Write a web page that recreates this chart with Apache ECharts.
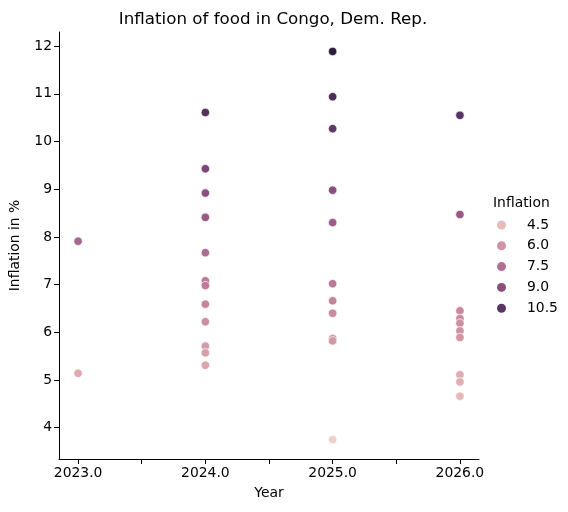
<!DOCTYPE html>
<html>
<head>
<meta charset="utf-8">
<script src="https://cdn.jsdelivr.net/npm/echarts@6/dist/echarts.min.js"></script>
<style>html,body{margin:0;padding:0;background:#fff}#c{width:568px;height:512px}</style>
</head>
<body>
<div id="c"></div>
<script>
// ---- data ----
const years2023 = [2023, 2023];
const values2023 = [7.91, 5.14];
const years2024 = [2024, 2024, 2024, 2024, 2024, 2024, 2024, 2024, 2024, 2024, 2024, 2024];
const values2024 = [10.61, 9.43, 8.92, 8.41, 7.67, 7.08, 6.98, 6.59, 6.22, 5.71, 5.57, 5.31];
const years2025 = [2025, 2025, 2025, 2025, 2025, 2025, 2025, 2025, 2025, 2025, 2025];
const values2025 = [11.89, 10.94, 10.27, 8.98, 8.30, 7.02, 6.66, 6.40, 5.87, 5.82, 3.75];
const years2026 = [2026, 2026, 2026, 2026, 2026, 2026, 2026, 2026, 2026, 2026];
const values2026 = [10.55, 8.47, 6.45, 6.29, 6.19, 6.03, 5.89, 5.11, 4.96, 4.66];
const legendValues = [4.5, 6.0, 7.5, 9.0, 10.5];
const xTickValues = [2023, 2023.5, 2024, 2024.5, 2025, 2025.5, 2026];
const xLabelValues = [2023, 2024, 2025, 2026];
const yTickValues = [4, 5, 6, 7, 8, 9, 10, 11, 12];

// ---- build points ----
const points = [];
[[years2023, values2023], [years2024, values2024], [years2025, values2025], [years2026, values2026]].forEach(([ys, vs]) => {
  ys.forEach((y, i) => points.push([y, vs[i]]));
});
const allVals = points.map(p => p[1]);
const hMin = Math.min(...allVals), hMax = Math.max(...allVals);

// seaborn default cubehelix colormap
function cubehelix(x) {
  const gamma = 1, start = 0, rot = 0.4, hue = 0.8;
  const xg = Math.pow(x, gamma);
  const a = hue * xg * (1 - xg) / 2;
  const phi = 2 * Math.PI * (start / 3 + rot * x);
  const c = Math.cos(phi), s = Math.sin(phi);
  const clip = v => Math.max(0, Math.min(1, v));
  const r = clip(xg + a * (-0.14861 * c + 1.78277 * s));
  const g = clip(xg + a * (-0.29227 * c - 0.90649 * s));
  const b = clip(xg + a * (1.97294 * c));
  const h = v => Math.round(v * 255).toString(16).padStart(2, '0');
  return '#' + h(r) + h(g) + h(b);
}
function cmap(t) { return cubehelix(0.85 + (0.15 - 0.85) * t); }
const stops = [];
for (let i = 0; i <= 32; i++) stops.push(cmap(i / 32));

const xMin = 2023 - 0.05 * 3, xMax = 2026 + 0.05 * 3;
const yPad = 0.05 * (hMax - hMin);
const yMin = hMin - yPad, yMax = hMax + yPad;

const font = 'DejaVu Sans';
const fs = 13.9;

const legendSeries = legendValues.map(v => ({
  name: v.toFixed(1),
  type: 'scatter',
  data: [],
  itemStyle: { color: cmap((v - hMin) / (hMax - hMin)), opacity: 1 }
}));

const chart = echarts.init(document.getElementById('c'), null, { renderer: 'canvas' });
chart.setOption({
  animation: false,
  backgroundColor: '#fff',
  title: [{
    text: 'Inflation of food in Congo, Dem. Rep.',
    left: 268, top: 6, textAlign: 'center',
    textStyle: { fontFamily: font, fontSize: 16.7, fontWeight: 'normal', color: '#000' }
  }, {
    text: 'Inflation',
    left: 488, top: 191,
    textStyle: { fontFamily: font, fontSize: fs, fontWeight: 'normal', color: '#000' }
  }],
  grid: { left: 57, right: 89, top: 32, bottom: 53, containLabel: false },
  xAxis: {
    type: 'value', min: xMin, max: xMax,
    name: 'Year', nameLocation: 'middle', nameGap: 27,
    nameTextStyle: { fontFamily: font, fontSize: fs, color: '#000' },
    splitLine: { show: false },
    axisLine: { show: true, onZero: false, lineStyle: { color: '#000', width: 1 } },
    axisTick: { show: true, length: 5, lineStyle: { color: '#000', width: 1 }, customValues: xTickValues },
    axisLabel: { fontFamily: font, fontSize: fs, color: '#000', margin: 7, customValues: xLabelValues,
      formatter: v => Number(v).toFixed(1) }
  },
  yAxis: {
    type: 'value', min: yMin, max: yMax,
    name: 'Inflation in %', nameLocation: 'middle', nameGap: 37,
    nameTextStyle: { fontFamily: font, fontSize: fs, color: '#000' },
    splitLine: { show: false },
    axisLine: { show: true, onZero: false, lineStyle: { color: '#000', width: 1 } },
    axisTick: { show: true, length: 5, lineStyle: { color: '#000', width: 1 }, customValues: yTickValues },
    axisLabel: { fontFamily: font, fontSize: fs, color: '#000', margin: 7, customValues: yTickValues,
      formatter: v => String(Math.round(v)) }
  },
  visualMap: {
    show: false, type: 'continuous', seriesIndex: 0, dimension: 1,
    min: hMin, max: hMax, inRange: { color: stops }
  },
  legend: {
    orient: 'vertical', left: 492, top: 213,
    selectedMode: false, icon: 'circle', itemWidth: 9, itemHeight: 9, itemGap: 6.8,
    textStyle: { fontFamily: font, fontSize: fs, color: '#000', padding: [0, 0, 0, 16] },
    data: legendValues.map(v => v.toFixed(1))
  },
  series: [{
    type: 'scatter',
    data: points,
    symbolSize: 8.5,
    itemStyle: { borderColor: '#fff', borderWidth: 0.7, opacity: 1 }
  }].concat(legendSeries)
});
</script>
</body>
</html>
